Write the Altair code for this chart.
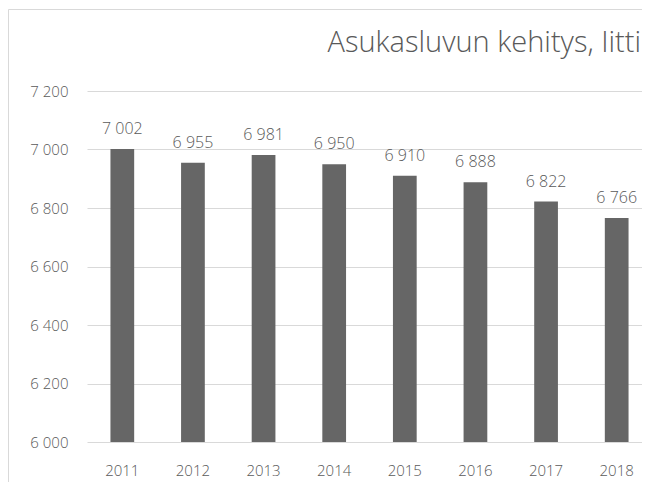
import altair as alt
import pandas as pd

years = ["2011", "2012", "2013", "2014", "2015", "2016", "2017", "2018"]
population = [7002, 6955, 6981, 6950, 6910, 6888, 6822, 6766]
y_ticks = [6000, 6200, 6400, 6600, 6800, 7000, 7200]
title_text = "Asukasluvun kehitys, Iitti"

labels = [f"{v:,}".replace(",", " ") for v in population]
df = pd.DataFrame({"year": years, "pop": population, "label": labels})

FONT = "Open Sans"
GRAY = "#595959"
W, H = 555, 351

x_enc = alt.X(
    "year:N",
    sort=years,
    scale=alt.Scale(range=[0, 565], paddingInner=0.664, paddingOuter=0.332),
    axis=alt.Axis(title=None, domain=False, ticks=False, labelAngle=0,
                  labelPadding=21, labelFontSize=15, labelColor=GRAY,
                  labelFont=FONT, labelFontWeight=300, grid=False),
)
y_enc = alt.Y(
    "pop:Q",
    scale=alt.Scale(domain=[6000, 7200], nice=False, zero=False),
    axis=alt.Axis(title=None, values=y_ticks, domain=False, ticks=False,
                  labelPadding=19, labelFontSize=15, labelColor=GRAY,
                  labelFont=FONT, labelFontWeight=300,
                  labelExpr="replace(format(datum.value, ','), ',', ' ')",
                  grid=True, gridColor="#d9d9d9", gridWidth=1),
)

base = alt.Chart(df)
bars = base.mark_bar(color="#666666").encode(x=x_enc, y=y_enc, y2=alt.datum(6000))
text = base.mark_text(dy=-12, baseline="bottom", fontSize=16, color=GRAY,
                      font=FONT, fontWeight=300).encode(x=x_enc, y=y_enc, text="label:N")

one = pd.DataFrame({"t": [title_text]})
title = alt.Chart(one).mark_text(align="right", baseline="alphabetic", fontSize=29,
                                 color=GRAY, font=FONT, fontWeight=300).encode(
    text="t:N", x=alt.value(W - 1), y=alt.value(-39))

border_top = alt.Chart(one).mark_rule(color="#d9d9d9", strokeWidth=1).encode(
    x=alt.value(-78.5), x2=alt.value(W), y=alt.value(-81.5))
border_left = alt.Chart(one).mark_rule(color="#d9d9d9", strokeWidth=1).encode(
    x=alt.value(-78.5), y=alt.value(-81.5), y2=alt.value(H + 40))

chart = alt.layer(border_top, border_left, bars, text, title).properties(
    width=W, height=H,
    autosize=alt.AutoSizeParams(type="none"),
    padding={"left": 79, "top": 83, "right": 0, "bottom": 40},
).configure_view(stroke=None)

chart.save("out.html", embed_options={"renderer": "svg", "actions": False})
